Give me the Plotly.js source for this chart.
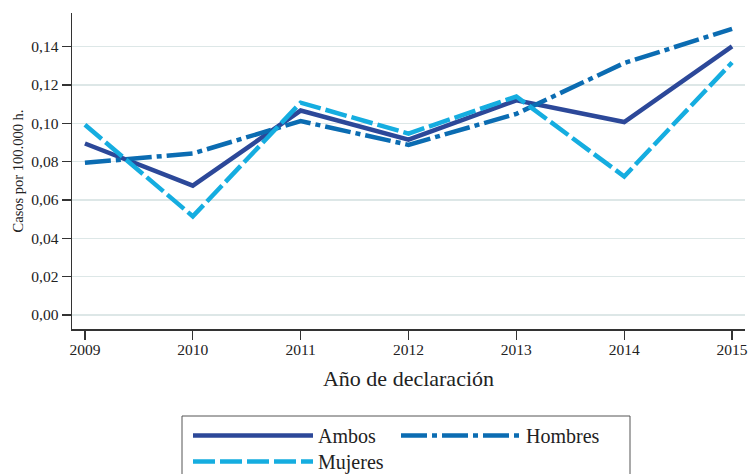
<!DOCTYPE html>
<html>
<head>
<meta charset="utf-8">
<script src="https://cdn.plot.ly/plotly-3.0.1.min.js"></script>
<style>html,body{margin:0;padding:0;background:#fff;}#chart{width:748px;height:474px;}</style>
</head>
<body>
<div id="chart"></div>
<script>
const years = [2009, 2010, 2011, 2012, 2013, 2014, 2015];
const ambos = [0.0895, 0.0675, 0.1067, 0.0915, 0.1120, 0.1007, 0.1402];
const hombres = [0.0794, 0.0843, 0.1012, 0.0888, 0.1050, 0.1315, 0.1493];
const mujeres = [0.0993, 0.0515, 0.1108, 0.0947, 0.1140, 0.0723, 0.1318];
const yTicks = [0, 0.02, 0.04, 0.06, 0.08, 0.10, 0.12, 0.14];
const seriesNames = ["Ambos", "Hombres", "Mujeres"];

const serif = "Liberation Serif, DejaVu Serif, serif";
const traces = [
  {x: years, y: ambos, name: seriesNames[0], mode: "lines", legend: "legend",
   line: {color: "#2c4899", width: 4.5}},
  {x: years, y: hombres, name: seriesNames[1], mode: "lines", legend: "legend",
   line: {color: "#0b6cb2", width: 4.5, dash: "26px,5px,5px,5px"}},
  {x: years, y: mujeres, name: seriesNames[2], mode: "lines", legend: "legend2",
   line: {color: "#15ade0", width: 4.5, dash: "22px,5px"}}
];
const legendBase = {
  orientation: "h", xref: "container", yref: "container",
  xanchor: "left", yanchor: "top",
  bgcolor: "rgba(0,0,0,0)", borderwidth: 0, itemwidth: 120,
  entrywidth: 73, entrywidthmode: "pixels",
  font: {family: serif, size: 20, color: "#222"},
  traceorder: "normal"
};
const layout = {
  width: 748, height: 474,
  margin: {l: 72, r: 3, t: 13, b: 145, autoexpand: false},
  paper_bgcolor: "#fff", plot_bgcolor: "#fff",
  separators: ",.",
  font: {family: serif, color: "#222", size: 15},
  showlegend: true,
  legend: Object.assign({}, legendBase, {x: 188 / 748, y: 1 - 416 / 474}),
  legend2: Object.assign({}, legendBase, {x: 188 / 748, y: 1 - 442 / 474}),
  shapes: [{
    type: "rect", xref: "paper", yref: "paper",
    x0: (182 - 72) / 673, x1: (630 - 72) / 673,
    y0: (329 - 416) / 316, y1: (329 - 480) / 316,
    line: {color: "#555", width: 1}, fillcolor: "rgba(0,0,0,0)"
  }],
  xaxis: {
    range: [2008.88, 2015.12], tickvals: years, ticktext: years.map(String),
    showgrid: false, zeroline: false, showline: true, linecolor: "#333", linewidth: 1.5,
    ticks: "outside", ticklen: 9, tickcolor: "#333", tickwidth: 1.2,
    ticklabelstandoff: -3,
    tickfont: {family: serif, size: 15.5, color: "#222"},
    title: {text: "Año de declaración", font: {family: serif, size: 22, color: "#222"}, standoff: 13}
  },
  yaxis: {
    range: [-0.0073, 0.1576], tickvals: yTicks, tickformat: ".2f",
    showgrid: true, gridcolor: "#dde7e7", gridwidth: 1.5, zeroline: false,
    showline: true, linecolor: "#333", linewidth: 1.5,
    ticks: "outside", ticklen: 9, tickcolor: "#333", tickwidth: 1.2,
    tickfont: {family: serif, size: 15.5, color: "#222"},
    title: {text: "Casos por 100.000 h.", font: {family: serif, size: 14.5, color: "#222"}, standoff: 4}
  }
};
Plotly.newPlot("chart", traces, layout, {displayModeBar: false, staticPlot: true});
</script>
</body>
</html>
